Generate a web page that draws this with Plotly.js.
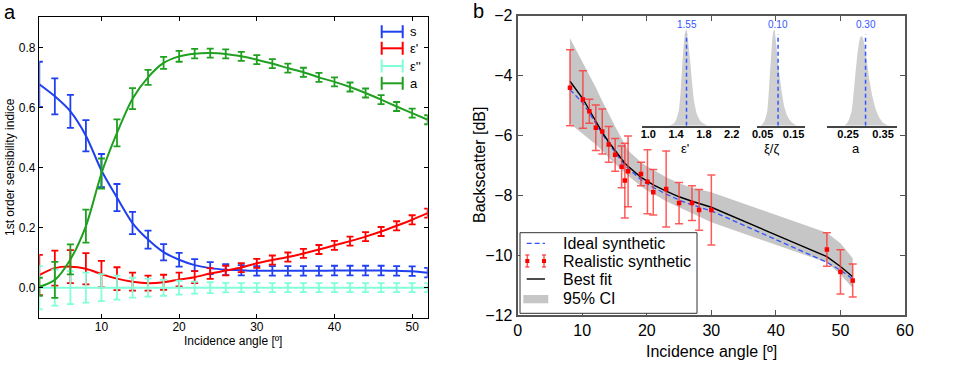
<!DOCTYPE html>
<html>
<head>
<meta charset="utf-8">
<script src="https://cdn.plot.ly/plotly-3.0.1.min.js"></script>
<style>
  html, body { margin: 0; padding: 0; background: #fff; }
  #chart { width: 955px; height: 365px; }
</style>
</head>
<body>
<div id="chart"></div>
<script>
// ---- panel a: sensitivity indices ----
const angles = [2, 4, 6, 8, 10, 12, 14, 16, 18, 20, 22, 24, 26, 28, 30, 32, 34, 36, 38, 40, 42, 44, 46, 48, 50, 52];
const sIdx = [0.677, 0.637, 0.587, 0.506, 0.39, 0.30, 0.215, 0.16, 0.118, 0.093, 0.075, 0.065, 0.06, 0.058, 0.056, 0.056, 0.056, 0.056, 0.056, 0.057, 0.057, 0.057, 0.057, 0.056, 0.055, 0.050];
const sErr = [0.075, 0.06, 0.055, 0.052, 0.055, 0.045, 0.037, 0.03, 0.027, 0.023, 0.02, 0.02, 0.018, 0.017, 0.016, 0.016, 0.016, 0.016, 0.016, 0.016, 0.016, 0.016, 0.016, 0.016, 0.016, 0.016];
const epsRe = [0.042, 0.065, 0.07, 0.063, 0.045, 0.030, 0.020, 0.015, 0.018, 0.027, 0.035, 0.047, 0.057, 0.067, 0.081, 0.092, 0.102, 0.114, 0.127, 0.141, 0.155, 0.17, 0.187, 0.206, 0.226, 0.248];
const epsReErr = [0.067, 0.058, 0.055, 0.052, 0.044, 0.038, 0.03, 0.025, 0.025, 0.023, 0.02, 0.018, 0.016, 0.015, 0.015, 0.015, 0.015, 0.015, 0.015, 0.015, 0.015, 0.015, 0.015, 0.015, 0.015, 0.015];
const epsIm = [0, 0, 0, 0, 0, 0, 0, 0, 0, 0, 0, 0, 0, 0, 0, 0, 0, 0, 0, 0, 0, 0, 0, 0, 0, 0];
const epsImErr = [0.072, 0.06, 0.055, 0.05, 0.045, 0.04, 0.033, 0.03, 0.027, 0.023, 0.02, 0.018, 0.016, 0.015, 0.015, 0.015, 0.015, 0.015, 0.015, 0.015, 0.015, 0.015, 0.015, 0.015, 0.015, 0.015];
const aIdx = [0.003, 0.026, 0.094, 0.205, 0.38, 0.515, 0.629, 0.70, 0.748, 0.77, 0.779, 0.781, 0.778, 0.77, 0.759, 0.746, 0.731, 0.717, 0.70, 0.685, 0.668, 0.648, 0.626, 0.603, 0.581, 0.559];
const aErr = [0.03, 0.06, 0.05, 0.055, 0.05, 0.045, 0.035, 0.025, 0.02, 0.018, 0.016, 0.015, 0.015, 0.015, 0.015, 0.015, 0.015, 0.015, 0.015, 0.015, 0.015, 0.015, 0.015, 0.015, 0.015, 0.015];
const seriesNames = ['s', "ε'", "ε''", 'a'];
const seriesColors = ['#2040f0', '#ff0000', '#80ffd8', '#20a020'];

// ---- panel b: backscatter fit ----
const bAngles = [8.1, 10.1, 11.1, 12.1, 13.1, 14.1, 15.1, 16.1, 16.6, 17.1, 19.1, 20.1, 21.0, 23.0, 25.0, 27.0, 28.1, 30.0, 47.9, 50.0, 51.9];
const realistic = [-4.41, -4.80, -5.19, -5.74, -5.87, -6.30, -6.65, -7.05, -7.51, -7.20, -7.29, -7.55, -7.90, -7.79, -8.26, -8.26, -8.49, -8.49, -9.81, -10.56, -10.85];
const realisticErr = [1.27, 0.96, 0.40, 0.76, 0.75, 0.60, 0.55, 0.70, 1.25, 1.18, 0.39, 1.07, 0.76, 1.27, 0.69, 0.58, 0.68, 1.17, 0.56, 0.74, 0.55];
const ideal = [-4.47, -4.92, -5.25, -5.62, -5.95, -6.27, -6.57, -6.86, -7.00, -7.10, -7.48, -7.62, -7.74, -7.96, -8.16, -8.32, -8.40, -8.52, -10.24, -10.50, -10.80];
const bestFit = [-4.19, -4.78, -5.15, -5.55, -5.90, -6.22, -6.50, -6.80, -6.93, -7.03, -7.40, -7.53, -7.65, -7.86, -8.05, -8.20, -8.27, -8.40, -10.05, -10.38, -10.72];
const ciUpper = [-2.75, -3.55, -3.95, -4.4, -4.85, -5.3, -5.7, -6.1, -6.3, -6.5, -6.9, -7.05, -7.15, -7.4, -7.6, -7.75, -7.8, -7.9, -9.25, -9.6, -10.1];
const ciLower = [-5.6, -5.95, -6.1, -6.3, -6.5, -6.75, -6.95, -7.15, -7.25, -7.35, -7.7, -7.85, -7.95, -8.2, -8.4, -8.6, -8.7, -8.9, -10.25, -10.65, -11.1];

// ---- posterior histograms (insets) ----
const epsBins = [1.30, 1.36, 1.40, 1.44, 1.47, 1.50, 1.53, 1.55, 1.57, 1.60, 1.63, 1.66, 1.70, 1.75, 1.80, 1.86];
const epsDens = [0, 0.02, 0.06, 0.16, 0.4, 0.75, 0.97, 1.0, 0.9, 0.7, 0.45, 0.25, 0.12, 0.05, 0.02, 0];
const xiBins = [0.045, 0.055, 0.065, 0.072, 0.078, 0.084, 0.088, 0.094, 0.100, 0.106, 0.112, 0.12, 0.13, 0.14, 0.15, 0.16];
const xiDens = [0, 0.04, 0.15, 0.45, 0.75, 0.97, 1.0, 0.85, 0.65, 0.5, 0.35, 0.2, 0.1, 0.05, 0.02, 0];
const aBins = [0.24, 0.25, 0.26, 0.265, 0.27, 0.278, 0.285, 0.29, 0.295, 0.30, 0.31, 0.32, 0.33, 0.34, 0.35, 0.36, 0.37];
const aDens = [0, 0.04, 0.15, 0.3, 0.5, 0.78, 0.92, 0.93, 0.88, 0.78, 0.5, 0.3, 0.16, 0.08, 0.03, 0.01, 0];
const trueVals = [1.55, 0.10, 0.30];
const trueLabels = ['1.55', '0.10', '0.30'];
const insetTitles = ["ε'", 'ξ/ζ', 'a'];
const insetTicks = [[1.0, 1.4, 1.8, 2.2], [0.05, 0.15], [0.25, 0.35]];
const insetFormats = ['.1f', '.2f', '.2f'];

const W = 955, H = 365;
const px = x => x / W;
const py = y => 1 - y / H;
const FONT = 'Liberation Sans, Arial, Helvetica, sans-serif';

const traces = [];

// panel a series
const leftY = [sIdx, epsRe, epsIm, aIdx];
const leftErr = [sErr, epsReErr, epsImErr, aErr];
leftY.forEach((ys, i) => {
    traces.push({
        type: 'scatter', mode: 'lines',
        x: angles, y: ys,
        xaxis: 'x', yaxis: 'y',
        line: {color: seriesColors[i], width: 2, shape: 'spline', smoothing: 0.8},
        error_y: {type: 'data', array: leftErr[i], visible: true, color: seriesColors[i], thickness: 1.8, width: 3.5},
        name: seriesNames[i], showlegend: false, hoverinfo: 'skip'
    });
});

// panel b: CI band
traces.push({
    type: 'scatter', mode: 'lines', x: bAngles, y: ciUpper,
    xaxis: 'x2', yaxis: 'y2', line: {width: 0, color: '#c6c6c6'},
    showlegend: false, hoverinfo: 'skip'
});
traces.push({
    type: 'scatter', mode: 'lines', x: bAngles, y: ciLower,
    xaxis: 'x2', yaxis: 'y2', line: {width: 0, color: '#c6c6c6'},
    fill: 'tonexty', fillcolor: '#c6c6c6',
    showlegend: false, hoverinfo: 'skip'
});
traces.push({
    type: 'scatter', mode: 'lines', x: bAngles, y: ideal,
    xaxis: 'x2', yaxis: 'y2', line: {color: '#3355ff', width: 1.3, dash: '5px,3px'},
    showlegend: false, hoverinfo: 'skip'
});
traces.push({
    type: 'scatter', mode: 'lines', x: bAngles, y: bestFit,
    xaxis: 'x2', yaxis: 'y2', line: {color: '#000', width: 1.4},
    showlegend: false, hoverinfo: 'skip'
});
traces.push({
    type: 'scatter', mode: 'markers', x: bAngles, y: realistic,
    xaxis: 'x2', yaxis: 'y2',
    marker: {color: '#ff0000', size: 4.5, symbol: 'square'},
    error_y: {type: 'data', array: realisticErr, visible: true, color: 'rgba(255,50,50,0.8)', thickness: 1.5, width: 4},
    showlegend: false, hoverinfo: 'skip'
});

// insets
const insetBins = [epsBins, xiBins, aBins];
const insetDens = [epsDens, xiDens, aDens];
insetBins.forEach((bins, i) => {
    const xa = 'x' + (i + 3), ya = 'y' + (i + 3);
    traces.push({
        type: 'scatter', mode: 'lines', x: bins, y: insetDens[i],
        xaxis: xa, yaxis: ya, fill: 'tozeroy', fillcolor: '#cfcfcf',
        line: {width: 0, color: '#cfcfcf', shape: 'spline', smoothing: 0.6},
        showlegend: false, hoverinfo: 'skip'
    });
    traces.push({
        type: 'scatter', mode: 'lines', x: [trueVals[i], trueVals[i]], y: [0, 0.95],
        xaxis: xa, yaxis: ya, line: {color: '#3355ff', width: 1.5, dash: '4px,3px'},
        showlegend: false, hoverinfo: 'skip'
    });
});

const insetX = [[641.7, 740], [756.7, 805], [826.7, 896.7]];
const insetRanges = [[0.905, 2.32], [0.031, 0.187], [0.189, 0.389]];

const layout = {
    width: W, height: H,
    margin: {l: 0, r: 0, t: 0, b: 0},
    paper_bgcolor: '#fff', plot_bgcolor: 'rgba(0,0,0,0)',
    font: {family: FONT, color: '#000'},
    showlegend: false,
    xaxis: {
        domain: [px(39.3), px(427.7)], anchor: 'y', range: [2, 52],
        tickvals: [10, 20, 30, 40, 50], ticks: 'inside', ticklen: 4, tickcolor: '#000',
        showline: true, linecolor: '#000', linewidth: 1.5, mirror: 'ticks',
        showgrid: false, zeroline: false, tickfont: {size: 12}, ticklabelstandoff: -3
    },
    yaxis: {
        domain: [py(317.7), py(17.3)], anchor: 'x', range: [-0.1, 0.9],
        tickvals: [0, 0.2, 0.4, 0.6, 0.8], tickformat: '.1f', ticks: 'inside', ticklen: 4, tickcolor: '#000',
        showline: true, linecolor: '#000', linewidth: 1.5, mirror: 'ticks',
        showgrid: false, zeroline: false, tickfont: {size: 12}
    },
    xaxis2: {
        domain: [px(517.7), px(905)], anchor: 'y2', range: [0, 60], dtick: 10,
        ticks: 'inside', ticklen: 5, tickcolor: '#555',
        showline: true, linecolor: '#555', linewidth: 2, mirror: 'ticks',
        showgrid: false, zeroline: false, tickfont: {size: 16}
    },
    yaxis2: {
        domain: [py(315), py(15.7)], anchor: 'x2', range: [-12, -2], dtick: 2,
        ticks: 'inside', ticklen: 5, tickcolor: '#555',
        showline: true, linecolor: '#555', linewidth: 2, mirror: 'ticks',
        showgrid: false, zeroline: false, tickfont: {size: 16}
    },
    shapes: [],
    annotations: []
};

insetX.forEach((d, i) => {
    const n = i + 3;
    layout['xaxis' + n] = {
        domain: [px(d[0]), px(d[1])], anchor: 'y' + n, range: insetRanges[i],
        tickvals: insetTicks[i], tickformat: insetFormats[i], ticks: '',
        showline: true, linecolor: '#444', linewidth: 2.5, ticklabelstandoff: -3,
        showgrid: false, zeroline: false, tickfont: {size: 11, weight: 'bold'}
    };
    layout['yaxis' + n] = {
        domain: [py(125.7), py(20)], anchor: 'x' + n, range: [0, 1.1], visible: false
    };
    layout.annotations.push({
        xref: 'x' + n, yref: 'y' + n, x: trueVals[i], y: 1.05, text: trueLabels[i],
        showarrow: false, font: {size: 10, color: '#3355ff'}, yanchor: 'middle'
    });
    layout.annotations.push({
        xref: 'paper', yref: 'paper', x: px((d[0] + d[1]) / 2), y: py(148.5), text: insetTitles[i],
        showarrow: false, font: {size: 13}, yanchor: 'middle'
    });
});

// axis titles and panel letters
const ann = (x, y, text, size, extra) => layout.annotations.push(Object.assign({
    xref: 'paper', yref: 'paper', x: px(x), y: py(y), text: text, showarrow: false,
    font: {size: size}, xanchor: 'center', yanchor: 'middle'
}, extra || {}));
ann(233, 341, 'Incidence angle [º]', 12);
ann(10, 167, '1st order sensibility indice', 12, {textangle: -90});
ann(711, 351, 'Incidence angle [º]', 16);
ann(479, 165, 'Backscatter [dB]', 16, {textangle: -90});
ann(10, 12, 'a', 20);
ann(478, 11, 'b', 20);

// panel a legend (error-bar glyphs)
const line = (x0, y0, x1, y1, color, width, dash) => layout.shapes.push({
    type: 'line', xref: 'paper', yref: 'paper', x0: px(x0), y0: py(y0), x1: px(x1), y1: py(y1),
    line: {color: color, width: width, dash: dash || 'solid'}, layer: 'above'
});
const rowsA = [31.7, 48.3, 66, 83.3];
seriesNames.forEach((name, i) => {
    const y = rowsA[i];
    line(381.7, y, 402.7, y, seriesColors[i], 2);
    line(381.7, y - 6.5, 381.7, y + 6.5, seriesColors[i], 2);
    line(402.7, y - 6.5, 402.7, y + 6.5, seriesColors[i], 2);
    ann(408, y, name, 13, {xanchor: 'left'});
});

// panel b legend box
layout.shapes.push({
    type: 'rect', xref: 'paper', yref: 'paper', x0: px(520), x1: px(697), y0: py(313.3), y1: py(232.7),
    line: {color: '#333', width: 1}, fillcolor: '#fff', layer: 'above'
});
const rowsB = [243.3, 261, 279, 298.3];
const labelsB = ['Ideal synthetic', 'Realistic synthetic', 'Best fit', '95% CI'];
line(526.7, rowsB[0], 545, rowsB[0], '#3355ff', 1.3, '5px,3px');
[527.3, 544].forEach(x => {
    line(x, rowsB[1] - 6, x, rowsB[1] + 6, 'rgba(255,50,50,0.8)', 1.5);
    line(x - 2, rowsB[1] - 6, x + 2, rowsB[1] - 6, 'rgba(255,50,50,0.8)', 1.5);
    line(x - 2, rowsB[1] + 6, x + 2, rowsB[1] + 6, 'rgba(255,50,50,0.8)', 1.5);
    layout.shapes.push({
        type: 'rect', xref: 'paper', yref: 'paper', x0: px(x - 2), x1: px(x + 2), y0: py(rowsB[1] + 2), y1: py(rowsB[1] - 2),
        line: {width: 0}, fillcolor: '#ff0000', layer: 'above'
    });
});
line(526.7, rowsB[2], 545, rowsB[2], '#000', 1.4);
layout.shapes.push({
    type: 'rect', xref: 'paper', yref: 'paper', x0: px(523.3), x1: px(548.3), y0: py(303.3), y1: py(295),
    line: {width: 0}, fillcolor: '#c6c6c6', layer: 'above'
});
labelsB.forEach((t, i) => ann(561, rowsB[i], t, 16, {xanchor: 'left'}));

Plotly.newPlot('chart', traces, layout, {staticPlot: true, displayModeBar: false});
</script>
</body>
</html>
